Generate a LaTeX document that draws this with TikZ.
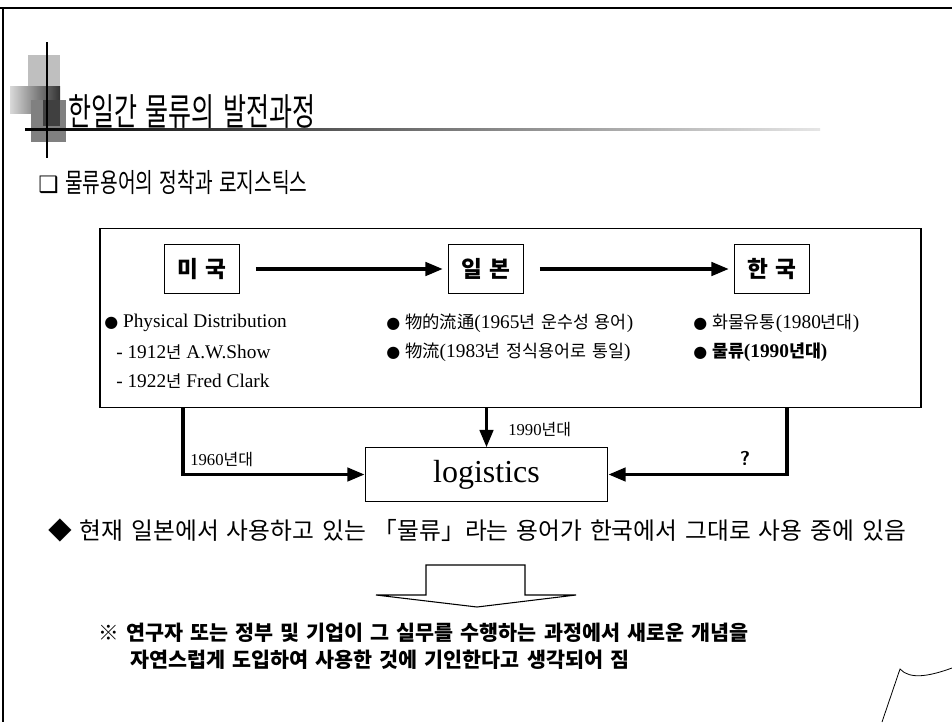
\documentclass[tikz,border=0pt]{standalone}
\usepackage{fontspec}
\usepackage{graphicx}
\usetikzlibrary{arrows.meta, positioning}
\setmainfont{Liberation Serif}
\newfontfamily\kr[WordSpace=1.5]{Noto Sans CJK KR}
\newfontfamily\sym{DejaVu Sans}
\def\narrow#1{\scalebox{0.72}[1]{#1}}
\def\arrowlw{2.6pt}

\begin{document}
\begin{tikzpicture}[x=0.75pt, y=-0.75pt, >={Triangle[length=13pt, width=10pt]}]
    \tikzstyle{country}=[draw=black, line width=0.8pt, minimum width=56pt, minimum height=37pt, inner sep=0pt, font=\kr\fontsize{17}{20}\selectfont\bfseries]
    \tikzstyle{flow}=[->, line width=\arrowlw]
    \tikzstyle{item}=[anchor=west, inner sep=0pt, font=\fontsize{14.5}{17}\selectfont]
    \tikzstyle{annot}=[anchor=west, inner sep=0pt, font=\fontsize{12.5}{14}\selectfont]
    \tikzstyle{why}=[anchor=west, inner sep=0pt, font=\kr\fontsize{15.5}{18}\selectfont\bfseries]

    \useasboundingbox (0,0) rectangle (952,722);
    \fill[white] (0,0) rectangle (952,722);

    % page frame
    \draw[line width=1.6pt] (0,8) -- (952,8);
    \draw[line width=1.6pt] (3,8) -- (3,722);

    % title decoration
    \fill[black!25] (28,55) rectangle (60,86);
    \shade[left color=black!15, right color=black!80] (10,86) rectangle (60,113);
    \fill[black!50] (31,100) rectangle (66,142);
    \fill[black!75] (43,100) rectangle (60,126);
    \shade[left color=black, right color=black!10] (25,128) rectangle (820,130);
    \draw[line width=1.6pt] (47,42) -- (47,158);

    % title and subtitle
    \node[anchor=west, inner sep=0pt] (title) at (68,112)
        {\kr\fontsize{28}{32}\selectfont\scalebox{0.67}[1]{한일간 물류의 발전과정}};
    \node[anchor=west, inner sep=0pt] (sub) at (38,182)
        {\sym\fontsize{17}{20}\selectfont ❑\kr\fontsize{20}{23}\selectfont\narrow{ 물류용어의 정착과 로지스틱스}};

    % outer box with the three countries
    \node[draw=black, line width=0.8pt, minimum width=615.75pt, minimum height=134.25pt, inner sep=0pt] (frame) at (510.5,318) {};
    \node[country] (US) at (202,269) {미 국};
    \node[country] (JP) at (486,269) {일 본};
    \node[country] (KR) at (772,269) {한 국};
    \draw[flow, shorten <=12pt, shorten >=4pt] (US) -- (JP);
    \draw[flow, shorten <=12pt, shorten >=4pt] (JP) -- (KR);

    % what each country called it
    \node[item] (us-1) at (104,323) {{\sym\fontsize{12}{14}\selectfont ●} Physical Distribution};
    \node[item] (us-2) at (116,352) {- 1912{\kr\fontsize{12.5}{14}\selectfont 년} A.W.Show};
    \node[item] (us-3) at (116,381) {- 1922{\kr\fontsize{12.5}{14}\selectfont 년} Fred Clark};
    \node[item] (jp-1) at (386,323) {{\sym\fontsize{12}{14}\selectfont ●} {\kr\fontsize{13}{15}\selectfont 物的流通}(1965{\kr\fontsize{13}{15}\selectfont 년 운수성 용어})};
    \node[item] (jp-2) at (386,352) {{\sym\fontsize{12}{14}\selectfont ●} {\kr\fontsize{13}{15}\selectfont 物流}(1983{\kr\fontsize{13}{15}\selectfont 년 정식용어로 통일})};
    \node[item] (kr-1) at (693,323) {{\sym\fontsize{12}{14}\selectfont ●} {\kr\fontsize{13}{15}\selectfont 화물유통}(1980{\kr\fontsize{13}{15}\selectfont 년대})};
    \node[item] (kr-2) at (693,352) {\bfseries{\sym\fontsize{12}{14}\selectfont ●} {\kr\fontsize{13}{15}\selectfont 물류}(1990{\kr\fontsize{13}{15}\selectfont 년대})};

    % logistics
    \node[draw=black, line width=0.8pt, minimum width=182pt, minimum height=40pt, inner sep=0pt, font=\fontsize{24}{27}\selectfont] (L) at (486.5,474.5) {logistics};
    \coordinate (c-us) at (183,407.5);
    \coordinate (c-kr) at (787,407.5);
    \coordinate (c-jp) at (486.5,407.5);
    \draw[flow] (c-us) |- (L.west);
    \draw[flow] (c-kr) |- (L.east);
    \draw[flow] (c-jp) -- (L.north);
    \node[annot] (y60) at (190,459) {1960{\kr\fontsize{12}{14}\selectfont 년대}};
    \node[annot] (y90) at (508,429) {1990{\kr\fontsize{12}{14}\selectfont 년대}};
    \node[anchor=center, inner sep=0pt, font=\sffamily\bfseries\fontsize{15}{17}\selectfont] (q) at (745,458) {?};

    % conclusion
    \node[anchor=west, inner sep=0pt] (note) at (48,530)
        {\kr\fontsize{17.8}{20}\selectfont ◆ 현재 일본에서 사용하고 있는 「물류」라는 용어가 한국에서 그대로 사용 중에 있음};
    \draw[line width=0.8pt, fill=white] (426,565) -- (525,565) -- (525,595) -- (576,595)
        -- (477,607) -- (376,595) -- (426,595) -- cycle;
    \node[why] (why-1) at (98,633)
        {※ 연구자 또는 정부 및 기업이 그 실무를 수행하는 과정에서 새로운 개념을};
    \node[why] (why-2) at (130,660)
        {자연스럽게 도입하여 사용한 것에 기인한다고 생각되어 짐};

    % page curl
    \draw[line width=0.6pt] (882,722) -- (900,669) .. controls (910,680) and (930,676) .. (952,668);
\end{tikzpicture}
\end{document}
